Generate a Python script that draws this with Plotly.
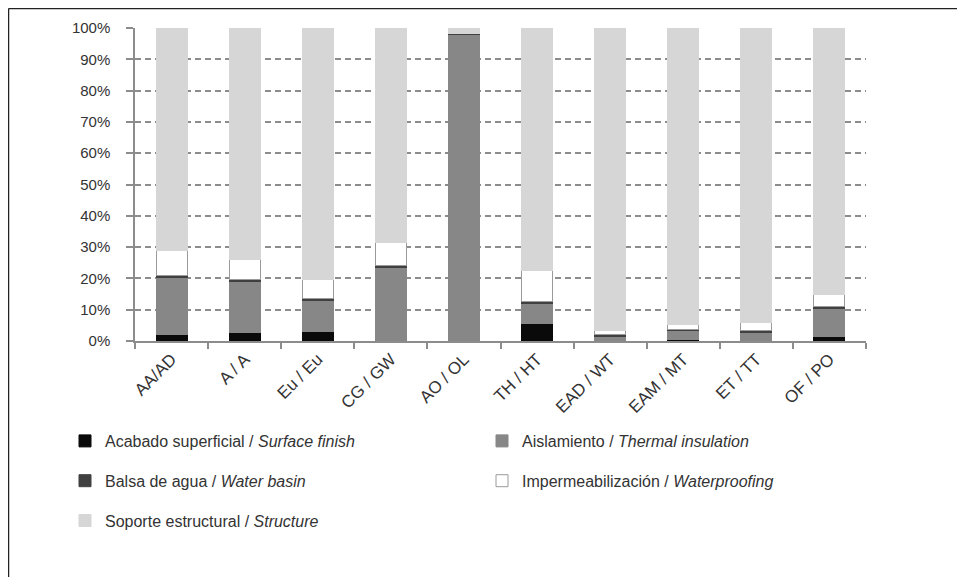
import plotly.graph_objects as go

categories = ["AA/AD", "A / A", "Eu / Eu", "CG / GW", "AO / OL",
              "TH / HT", "EAD / WT", "EAM / MT", "ET / TT", "OF / PO"]

acabado = [2.0, 2.7, 3.0, 0.0, 0.0, 5.6, 0.0, 0.6, 0.0, 1.5]
aislamiento = [18.4, 16.3, 9.9, 23.4, 98.0, 6.4, 1.5, 2.6, 2.7, 8.9]
balsa = [0.6, 0.5, 0.6, 0.6, 0.4, 0.6, 0.7, 0.5, 0.5, 0.7]
impermeabilizacion = [8.0, 6.5, 6.3, 7.5, 0.0, 9.9, 1.1, 1.6, 2.6, 3.6]
soporte = [71.0, 74.0, 80.2, 68.5, 1.6, 77.5, 96.7, 94.7, 94.2, 85.3]

y_ticks = [0, 10, 20, 30, 40, 50, 60, 70, 80, 90, 100]

series = [
    ("Acabado superficial / <i>Surface finish</i>", acabado, "#0a0a0a", "#0a0a0a", "legend", "g1"),
    ("Aislamiento / <i>Thermal insulation</i>", aislamiento, "#878787", "#878787", "legend2", "g2"),
    ("Balsa de agua / <i>Water basin</i>", balsa, "#404040", "#404040", "legend", "g3"),
    ("Impermeabilización / <i>Waterproofing</i>", impermeabilizacion, "#ffffff", "#9a9a9a", "legend2", "g4"),
    ("Soporte estructural / <i>Structure</i>", soporte, "#d6d6d6", "#d6d6d6", "legend", "g5"),
]

fig = go.Figure()
for name, vals, color, lc, leg, grp in series:
    fig.add_trace(go.Bar(
        x=categories, y=vals, name=name,
        marker=dict(color=color, line=dict(color=lc, width=1)),
        legend=leg, legendgroup=grp,
    ))

# figure is offset by the 8px body margin of the page
W, H = 957, 569
L, R, T, B = 127, 99, 20, 236
pw = W - L - R
ph = H - T - B

def px_x(px):
    return (px - L) / pw

def px_y(py):
    return (H - B - py) / ph

font_family = "Liberation Sans, Arial, sans-serif"

fig.update_layout(
    width=W, height=H,
    margin=dict(l=L, r=R, t=T, b=B),
    barmode="stack",
    bargap=0.575,
    plot_bgcolor="white",
    paper_bgcolor="white",
    font=dict(family=font_family, color="#333333"),
    legend=dict(
        x=px_x(57), y=px_y(416), xanchor="left", yanchor="top",
        orientation="v", traceorder="grouped", tracegroupgap=16,
        font=dict(size=16, color="#333333"),
        bgcolor="rgba(0,0,0,0)",
    ),
    legend2=dict(
        x=px_x(474), y=px_y(416), xanchor="left", yanchor="top",
        orientation="v", traceorder="grouped", tracegroupgap=16,
        font=dict(size=16, color="#333333"),
        bgcolor="rgba(0,0,0,0)",
    ),
    xaxis=dict(
        type="category",
        tickangle=-45,
        tickfont=dict(size=17, color="#333333"),
        showline=True, linecolor="#8c8c8c", linewidth=1.5,
        ticks="outside", tickson="boundaries", ticklen=6,
        tickcolor="#8c8c8c", tickwidth=1.5,
        showgrid=False,
    ),
    yaxis=dict(
        range=[0, 100],
        tickvals=y_ticks,
        ticktext=[f"{v}%" for v in y_ticks],
        tickfont=dict(size=15, color="#333333"),
        showline=True, linecolor="#8c8c8c", linewidth=1.5,
        ticks="outside", ticklen=7, tickcolor="#8c8c8c", tickwidth=1.5,
        showgrid=True, gridcolor="#8c8c8c", gridwidth=1.5,
        griddash="6px,4px",
        zeroline=False,
        ticklabelstandoff=13,
    ),
    shapes=[
        dict(type="line", xref="paper", yref="paper",
             x0=px_x(0.5), x1=px_x(W), y0=px_y(0.5), y1=px_y(0.5),
             line=dict(color="#222222", width=1.5)),
        dict(type="line", xref="paper", yref="paper",
             x0=px_x(0.5), x1=px_x(0.5), y0=px_y(0.5), y1=px_y(H),
             line=dict(color="#222222", width=1.5)),
    ],
)

fig.write_html("out.html")
